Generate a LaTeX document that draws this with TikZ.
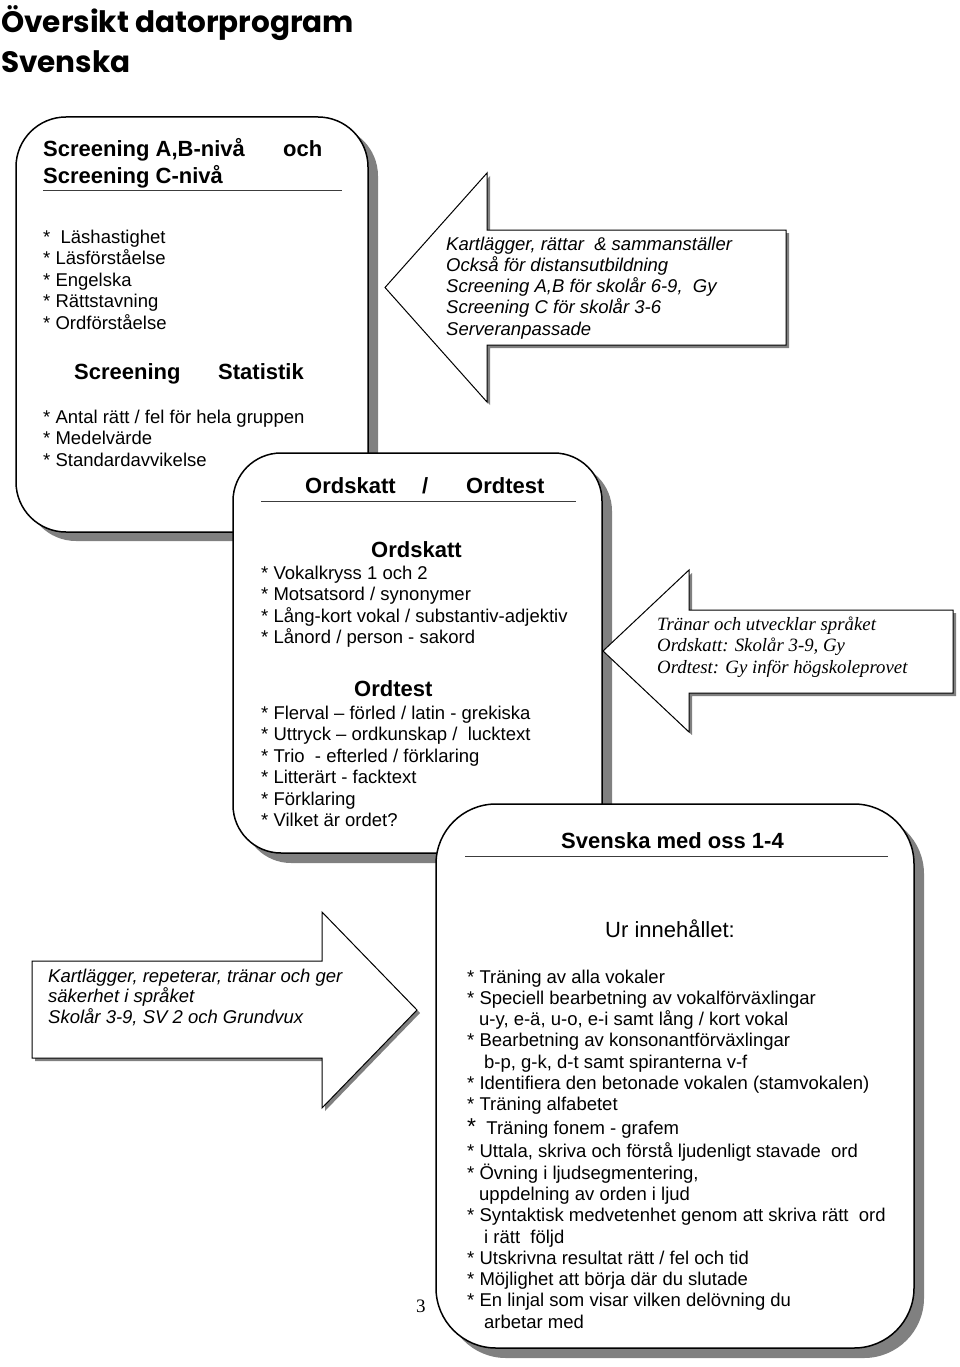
\documentclass[tikz,border=0pt]{standalone}
\usepackage{fontspec}
\setmainfont{Liberation Sans}
\newfontfamily\serifface{Liberation Serif}
\newfontfamily\titleface{Poppins}
\definecolor{shadowgray}{RGB}{128,128,128}
\definecolor{rulegray}{RGB}{60,60,60}
\begin{document}
\begin{tikzpicture}[x=1pt,y=-1pt,
  boxline/.style={draw=black,line width=1.5pt,fill=white},
  boxshadow/.style={fill=shadowgray,draw=none},
  arrowline/.style={draw=black,line width=1pt,fill=white,line join=miter},
  arrowshadow/.style={fill=shadowgray,draw=none},
  rulestyle/.style={draw=rulegray,line width=0.9pt},
  txt/.style={anchor=base west,inner sep=0pt,align=left,font=\fontsize{18.5}{21.5}\selectfont},
  hd/.style={anchor=base west,inner sep=0pt,font=\fontsize{22}{26}\selectfont\bfseries},
  itx/.style={anchor=base west,inner sep=0pt,align=left,font=\fontsize{18.5}{21.3}\selectfont\itshape},
  sitx/.style={anchor=base west,inner sep=0pt,align=left,font=\fontsize{18.8}{21.5}\selectfont\serifface\itshape},
  ttl/.style={anchor=base west,inner sep=0pt,font=\fontsize{29.5}{36}\selectfont\titleface\bfseries}
]
\useasboundingbox (0,0) rectangle (960,1367);
\fill[white] (0,0) rectangle (960,1367);

% title
\node[ttl] (title1) at (1,33) {Översikt datorprogram};
\node[ttl] (title2) at (1,73) {Svenska};

% box 1
\fill[boxshadow,rounded corners=50pt] (26,126) rectangle (378,541);
\draw[boxline,rounded corners=50pt] (16,117) rectangle (368,532);
\node[hd] (b1h1) at (43,157) {Screening A,B-nivå};
\node[hd] (b1och) at (283,157) {och};
\node[hd] (b1h2) at (43,183) {Screening C-nivå};
\draw[rulestyle] (43,190) -- (342,190);
% multi-line nodes: base anchor = baseline of the last line
\node[txt] (b1list) at (43,329) {*\ \ Läshastighet\\* Läsförståelse\\* Engelska\\* Rättstavning\\* Ordförståelse};
\node[hd] (b1s1) at (74,379) {Screening};
\node[hd] (b1s2) at (218,379) {Statistik};
\node[txt] (b1stat) at (43,466) {* Antal rätt / fel för hela gruppen\\* Medelvärde\\* Standardavvikelse};

% box 2
\fill[boxshadow,rounded corners=48pt] (243,463) rectangle (612,863);
\draw[boxline,rounded corners=48pt] (233,453) rectangle (602,853);
\node[hd] (b2h1) at (305,493) {Ordskatt};
\node[hd] (b2sl) at (422,493) {/};
\node[hd] (b2h2) at (466,493) {Ordtest};
\draw[rulestyle] (261,501) -- (576,501);
\node[hd] (b2s1) at (371,557) {Ordskatt};
\node[txt] (b2l1) at (261,643.5) {* Vokalkryss 1 och 2\\* Motsatsord / synonymer\\* Lång-kort vokal / substantiv-adjektiv\\* Lånord / person - sakord};
\node[hd] (b2s2) at (354,696) {Ordtest};
\node[txt] (b2l2) at (261,826.5) {* Flerval – förled / latin - grekiska\\* Uttryck – ordkunskap /\ \ lucktext\\* Trio\ \ - efterled / förklaring\\* Litterärt - facktext\\* Förklaring\\* Vilket är ordet?};

% box 3
\fill[boxshadow,rounded corners=60pt] (446,814) rectangle (924,1358);
\draw[boxline,rounded corners=60pt] (436,804) rectangle (914,1348);
\node[hd] (b3h) at (561,848) {Svenska med oss 1-4};
\draw[rulestyle] (465,856) -- (888,856);
\node[anchor=base west,inner sep=0pt,font=\fontsize{22}{26}\selectfont] (b3ur) at (605,937) {Ur innehållet:};
\node[txt,font=\fontsize{18.5}{21.3}\selectfont] (b3list) at (467,1328.2) {* Träning av alla vokaler\\
* Speciell bearbetning av vokalförväxlingar\\
\hspace*{12pt}u-y, e-ä, u-o, e-i samt lång / kort vokal\\
* Bearbetning av konsonantförväxlingar\\
\hspace*{17pt}b-p, g-k, d-t samt spiranterna v-f\\
* Identifiera den betonade vokalen (stamvokalen)\\
* Träning alfabetet\\[2.4pt]
{\fontsize{23}{21.3}\selectfont*}\ \ Träning fonem - grafem\\[2pt]
* Uttala, skriva och förstå ljudenligt stavade\ \ ord\\
* Övning i ljudsegmentering,\\
\hspace*{12pt}uppdelning av orden i ljud\\
* Syntaktisk medvetenhet genom att skriva rätt\ \ ord\\
\hspace*{17pt}i rätt\ \ följd\\
* Utskrivna resultat rätt / fel och tid\\
* Möjlighet att börja där du slutade\\
* En linjal som visar vilken delövning du\\
\hspace*{17pt}arbetar med};
\node[anchor=base west,inner sep=0pt,font=\fontsize{19}{22}\selectfont\serifface] (pagenum) at (416,1312) {3};

% arrow 1 (pointing left)
\fill[arrowshadow] (789,233) -- (490,233) -- (490,176) -- (388,290.5) -- (490,405) -- (490,348) -- (789,348) -- cycle;
\draw[arrowline] (786,230) -- (487,230) -- (487,173) -- (385,287.5) -- (487,402) -- (487,345) -- (786,345) -- cycle;
\node[itx] (a1t) at (446,335.2) {Kartlägger, rättar\ \ \& sammanställer\\Också för distansutbildning\\Screening A,B för skolår 6-9,\ \ Gy\\Screening C för skolår 3-6\\Serveranpassade};

% arrow 2 (pointing left)
\fill[arrowshadow] (956,613) -- (692,613) -- (692,573) -- (606,654) -- (692,735) -- (692,696) -- (956,696) -- cycle;
\draw[arrowline] (953,610) -- (689,610) -- (689,570) -- (603,651) -- (689,732) -- (689,693) -- (953,693) -- cycle;
\node[sitx] (a2t) at (657,673) {Tränar och utvecklar språket\\Ordskatt: Skolår 3-9, Gy\\Ordtest: Gy inför högskoleprovet};

% arrow 3 (pointing right)
\fill[arrowshadow] (35,964) -- (325,964) -- (325,915) -- (420,1013) -- (325,1111) -- (325,1061) -- (35,1061) -- cycle;
\draw[arrowline] (32,961) -- (322,961) -- (322,912) -- (417,1010) -- (322,1108) -- (322,1058) -- (32,1058) -- cycle;
\node[itx,font=\fontsize{18.5}{20.7}\selectfont\itshape] (a3t) at (48,1023.4) {Kartlägger, repeterar, tränar och ger\\säkerhet i språket\\Skolår 3-9, SV 2 och Grundvux};
\end{tikzpicture}
\end{document}
